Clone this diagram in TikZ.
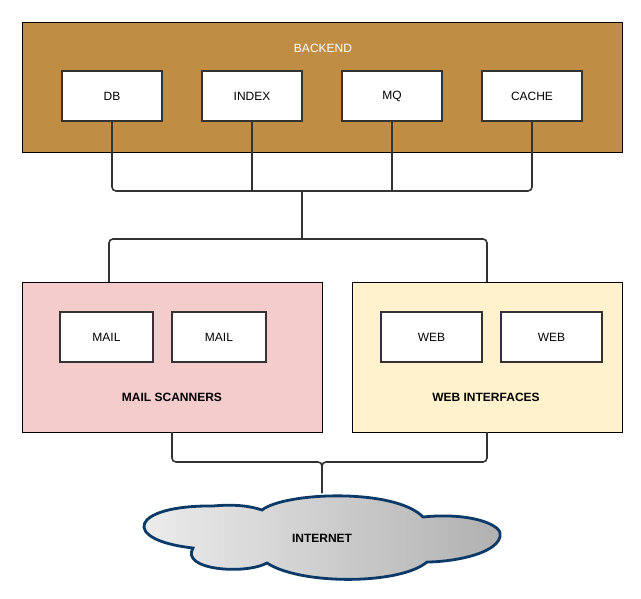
\documentclass[tikz,border=0pt]{standalone}
\usepackage{fontspec}
\setmainfont{Liberation Sans}
\definecolor{backendbrown}{HTML}{C08D44}
\definecolor{mailpink}{HTML}{F4CCCC}
\definecolor{webcream}{HTML}{FFF2CC}
\definecolor{wiregray}{HTML}{333333}
\definecolor{cloudblue}{HTML}{0B3A68}
\tikzset{
  group/.style={draw=black,line width=0.8pt,outer sep=0pt,inner sep=0pt},
  unit/.style={draw=wiregray,fill=white,line width=1.6pt,outer sep=0pt,
    minimum height=50pt,font=\fontsize{12}{14}\selectfont},
  wire/.style={draw=wiregray,line width=1.6pt,rounded corners=4pt},
  title/.style={font=\fontsize{12}{14}\selectfont\bfseries}
}
\begin{document}
\begin{tikzpicture}[x=1pt,y=-1pt]
\useasboundingbox (0,0) rectangle (641,599);
% backend
\node[group,fill=backendbrown,minimum width=600pt,minimum height=130pt] (backend) at (322,87) {};
\node[text=white,font=\fontsize{12}{14}\selectfont] (backendlabel) at (323,48) {BACKEND};
\node[unit,minimum width=100pt] (db) at (112,96) {DB};
\node[unit,minimum width=100pt] (index) at (252,96) {INDEX};
\node[unit,minimum width=100pt] (mq) at (392,96) {MQ};
\node[unit,minimum width=100pt] (cache) at (532,96) {CACHE};
% front ends
\node[group,fill=mailpink,minimum width=300pt,minimum height=150pt] (mailgroup) at (172,357) {};
\node[unit,minimum width=93pt] (mail1) at (106.5,337) {MAIL};
\node[unit,minimum width=94pt] (mail2) at (219,337) {MAIL};
\node[title] (maillabel) at (172,397) {MAIL SCANNERS};
\node[group,fill=webcream,minimum width=270pt,minimum height=150pt] (webgroup) at (487,357) {};
\node[unit,minimum width=101pt] (web1) at (431.5,337) {WEB};
\node[unit,minimum width=101pt] (web2) at (551.5,337) {WEB};
\node[title] (weblabel) at (486,397) {WEB INTERFACES};
% internet
\shadedraw[draw=cloudblue,line width=2.8pt,left color=gray!12,right color=gray!62]
  (262,510) .. controls (285,492) and (395,488) .. (423,517)
  .. controls (470,512) and (505,525) .. (500,537)
  .. controls (495,555) and (450,562) .. (427,562)
  .. controls (400,585) and (300,585) .. (267,563)
  .. controls (245,575) and (180,570) .. (193,548)
  .. controls (120,540) and (130,505) .. (213,506)
  .. controls (235,504) and (250,506) .. (262,510) -- cycle;
\node[title] (internet) at (322,538) {INTERNET};
\coordinate (bus) at (302,191);
\coordinate (split) at (302,239);
\coordinate (uplink) at (322,493);
% wires
\draw[wire] (db.south) |- (cache.south |- bus) -- (cache.south);
\draw[wire] (index.south) -- (index.south |- bus);
\draw[wire] (mq.south) -- (mq.south |- bus);
\draw[wire] (bus) -- (split);
\draw[wire] (split) -| ([xshift=-63pt]mailgroup.north);
\draw[wire] (split) -| (webgroup.north);
\draw[wire] (mailgroup.south) |- (322,462) -- (uplink);
\draw[wire] (webgroup.south) |- (322,462) -- (uplink);
\end{tikzpicture}
\end{document}
